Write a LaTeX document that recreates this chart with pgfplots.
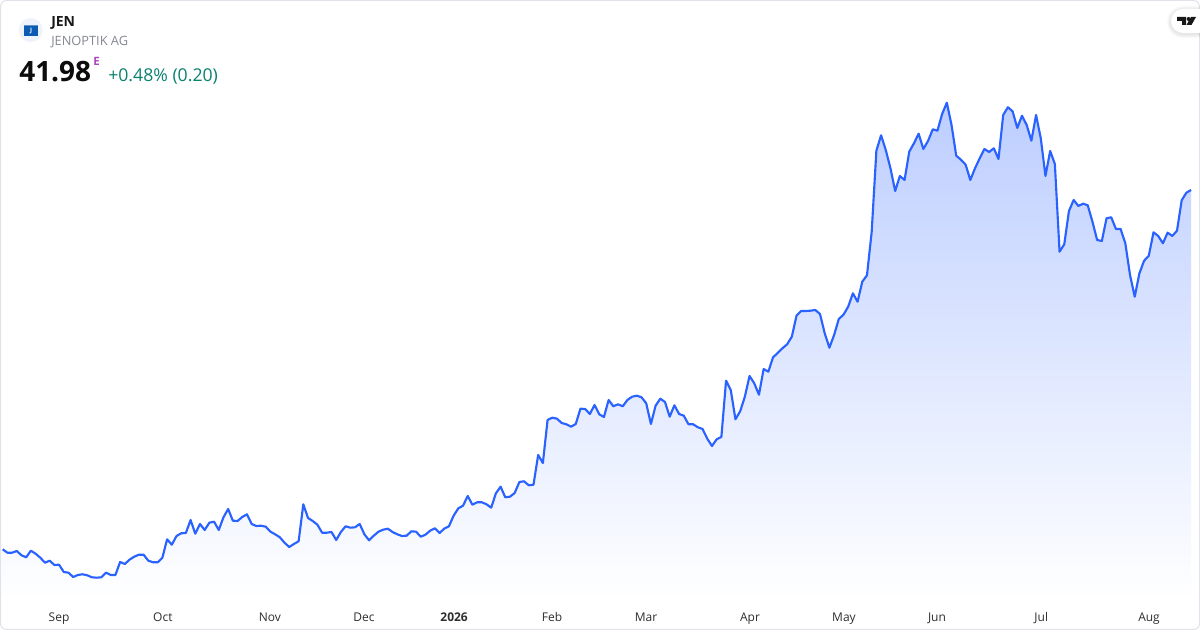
\documentclass[border=0pt]{standalone}
\usepackage{pgfplots}
\usepackage{pgfplotstable}
\usepackage{fontspec}
\setmainfont{Open Sans}
\pgfplotsset{compat=1.18}
\definecolor{lineblue}{HTML}{2962FF}
\definecolor{areatop}{HTML}{BDCEFF}
\definecolor{framegrey}{HTML}{E0E3EB}
\definecolor{ticktext}{HTML}{2E2E2E}
\definecolor{subgrey}{HTML}{868993}
\definecolor{upgreen}{HTML}{0A8270}
\definecolor{epurple}{HTML}{AB47BC}
\definecolor{logobg}{HTML}{EEF2FB}
\definecolor{logoblue}{HTML}{0B5BB5}
\pgfplotstableread[header=false,row sep=\\]{
0 80.7\\1 77.3\\2 77.3\\3 79\\4 74.7\\5 72.7\\6 79.3\\7 76.3\\8 72.3\\9 67.3\\
10 69.3\\11 65\\12 65.3\\13 58\\14 57.3\\15 53\\16 55\\17 55.7\\18 54.7\\19 52.7\\
20 52.3\\21 52.7\\22 57.3\\23 55\\24 55\\25 68\\26 66\\27 70.3\\28 73.3\\29 75.3\\
30 75.3\\31 69.3\\32 67.7\\33 67.7\\34 72.3\\35 90.7\\36 85.3\\37 94\\38 96.7\\39 97\\
40 110\\41 96.3\\42 106\\43 100\\44 107.3\\45 108.3\\46 100\\47 112.7\\48 121\\49 109.3\\
50 109\\51 113\\52 115.7\\53 106\\54 104\\55 104.3\\56 103.3\\57 98.3\\58 95.7\\59 92.7\\
60 87.3\\61 83\\62 86\\63 88.7\\64 125.7\\65 112\\66 109\\67 105.3\\68 97.3\\69 97.3\\
70 98\\71 90\\72 98\\73 103.7\\74 102.3\\75 102.7\\76 106\\77 95.7\\78 89.7\\79 94.3\\
80 98.3\\81 100.3\\82 101.3\\83 98\\84 95.7\\85 94\\86 94.3\\87 98.7\\88 98.3\\89 93.3\\
90 95.3\\91 99.3\\92 101.7\\93 97\\94 101.3\\95 103.7\\96 114.3\\97 121.7\\98 124.3\\99 134\\
100 125.3\\101 127.7\\102 127.7\\103 125.7\\104 122.3\\105 136.7\\106 143.3\\107 132.7\\108 133.3\\109 137\\
110 148\\111 148.7\\112 144.7\\113 145.3\\114 175\\115 167\\116 210\\117 212.3\\118 211.3\\119 207\\
120 205.7\\121 203.3\\122 206\\123 221.3\\124 221\\125 216\\126 225\\127 215.7\\128 213\\129 230\\
130 223.7\\131 225.7\\132 223.7\\133 230\\134 233.3\\135 234.3\\136 232.7\\137 226.7\\138 206\\139 224.3\\
140 231.3\\141 228\\142 213.3\\143 224.7\\144 216\\145 214.3\\146 205.7\\147 205.7\\148 202.7\\149 201\\
150 191.3\\151 184\\152 190.7\\153 193\\154 249.3\\155 240\\156 210.7\\157 218.7\\158 233.3\\159 254\\
160 246.7\\161 235.3\\162 261\\163 258.3\\164 272.7\\165 277\\166 281.7\\167 285.7\\168 293.3\\169 314.3\\
170 319\\171 319\\172 319.3\\173 320\\174 316\\175 296.7\\176 282.3\\177 295\\178 311\\179 315.3\\
180 323.3\\181 336.7\\182 328.3\\183 348.3\\184 354.7\\185 398\\186 479.3\\187 494.7\\188 480\\189 461.7\\
190 439\\191 454\\192 450\\193 478.3\\194 486.7\\195 496.3\\196 481\\197 489\\198 500.7\\199 499.3\\
200 516\\201 527.3\\202 505\\203 474.3\\204 470.3\\205 465.3\\206 450\\207 461.7\\208 471.7\\209 481\\
210 478\\211 481.7\\212 471\\213 515\\214 522.7\\215 518.7\\216 502\\217 514.3\\218 505\\219 489.3\\
220 515\\221 491.7\\222 454\\223 479\\224 466\\225 378.3\\226 385.7\\227 419\\228 430\\229 424\\
230 426.3\\231 424.7\\232 408.3\\233 390\\234 389\\235 411.7\\236 412.7\\237 401\\238 401\\239 386.7\\
240 355\\241 333.3\\242 356.7\\243 369.3\\244 374.3\\245 397.7\\246 394\\247 386.7\\248 397.3\\249 394\\
250 399.3\\251 429.7\\252 437.3\\253 440\\
}\pricetable
\begin{document}
\begin{tikzpicture}
\useasboundingbox (0,-22.5pt) rectangle (900pt,450pt);
\begin{scope}[x=0.75pt,y=-0.75pt,shift={(0,450pt)}]
  \draw[framegrey,line width=0.75pt,rounded corners=4.5pt,fill=white] (0.5,0.5) rectangle (1199.5,629.5);
\end{scope}
\begin{axis}[
  at={(0,0)},anchor=south west,
  scale only axis,width=900pt,height=450pt,
  xmin=-0.575,xmax=254.9,ymin=30,ymax=630,
  axis line style={draw=none},
  major tick length=0pt,
  ytick=\empty,
  xtick={12,34.1,56.9,76.9,96.1,116.95,136.96,159.1,179.1,198.9,221.1,244.05},
  xticklabels={Sep,Oct,Nov,Dec,\textbf{2026},Feb,Mar,Apr,May,Jun,Jul,Aug},
  xticklabel style={anchor=base,yshift=-16.5pt,font=\fontsize{9}{11}\selectfont,text=ticktext},
]
\addplot[draw=none,top color=areatop,bottom color=white] table[x index=0,y index=1] {\pricetable} \closedcycle;
\addplot[lineblue,line width=1.6pt,line join=round] table[x index=0,y index=1] {\pricetable};
\end{axis}
\begin{scope}[x=0.75pt,y=-0.75pt,shift={(0,450pt)}]
  % logo
  \fill[logobg] (30.7,30) circle (12);
  \fill[logoblue] (24,25.3) rectangle (38,35.7);
  \fill[white,opacity=0.35] (24,25.3) rectangle (38,26.3);
  \node[text=white,font=\fontsize{4.5}{5}\selectfont\bfseries,inner sep=0pt] at (31,31.3) {J};
  % header
  \node[anchor=base west,inner sep=0pt,font=\fontsize{10.5}{12}\selectfont\bfseries,text=black!90] at (51,26.7) {JEN};
  \node[anchor=base west,inner sep=0pt,font=\fontsize{9.6}{12}\selectfont,text=subgrey] at (51,46) {JENOPTIK AG};
  \node[anchor=base west,inner sep=0pt,font=\fontsize{21}{24}\selectfont\bfseries,text=black!95] at (19,81.7) {41.98};
  \node[anchor=base west,inner sep=0pt,font=\fontsize{8.6}{10}\selectfont\bfseries,text=epurple] at (93,66) {E};
  \node[anchor=base west,inner sep=0pt,font=\fontsize{13.25}{15}\selectfont,text=upgreen] at (108,81.5) {+0.48\% (0.20)};
  % watermark tab
  \foreach \o in {4,3,2,1}{
    \fill[black,opacity=0.025] (1200,9-\o+1) -- (1183,9-\o+1) arc[start angle=270,end angle=90,radius={(12+\o)}] -- (1200,33+\o+1) -- cycle;
  }
  \fill[white] (1200,9) -- (1183,9) arc[start angle=270,end angle=90,radius=12] -- (1200,33) -- cycle;
  \fill[black!90] (1177,17) -- (1186,17) -- (1186,25) -- (1182,25) -- (1182,21) -- (1177,21) -- cycle;
  \fill[black!90] (1188.6,19) circle (2);
  \fill[black!90] (1191,17) -- (1196,17) -- (1191.5,25) -- (1186.5,25) -- cycle;
\end{scope}
\end{tikzpicture}
\end{document}
